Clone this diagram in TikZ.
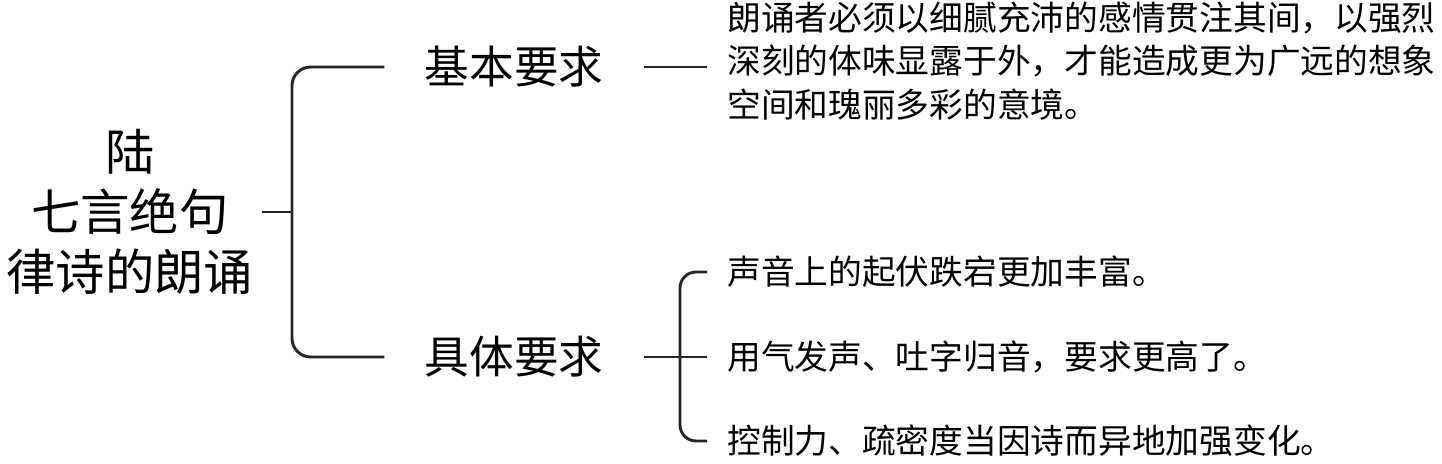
\documentclass[tikz,border=0pt]{standalone}
\usepackage{fontspec}
\setmainfont{Noto Sans CJK SC}
\usepackage{tikz}

\tikzset{
	link/.style={draw=black!85, line width=2.2pt},
	topic/.style={inner xsep=30pt, inner ysep=0pt, font=\fontsize{33.5}{40}\selectfont},
	item/.style={anchor=west, inner xsep=15pt, inner ysep=0pt, align=left, font=\fontsize{25.3}{32.5}\selectfont},
}

\begin{document}
\begin{tikzpicture}[x=0.75pt, y=-0.75pt]
	\useasboundingbox (0,0) rectangle (1442,464);

	\node[inner xsep=6pt, align=center, font=\fontsize{37}{45}\selectfont] (root) at (130,212) {陆\\七言绝句\\律诗的朗诵};
	\node[topic] (jb) at (514,67) {基本要求};
	\node[topic] (jt) at (514,357) {具体要求};

	\node[item] (desc) at (707,61) {朗诵者必须以细腻充沛的感情贯注其间，以强烈\\深刻的体味显露于外，才能造成更为广远的想象\\空间和瑰丽多彩的意境。};
	\node[item] (i1) at (707,272) {声音上的起伏跌宕更加丰富。};
	\node[item] (i2) at (707,357) {用气发声、吐字归音，要求更高了。};
	\node[item] (i3) at (707,441) {控制力、疏密度当因诗而异地加强变化。};

	\coordinate (spine) at (292,212);
	\coordinate (twig) at (680,357);

	\path[link] (root.east) edge (spine);
	\draw[link, rounded corners=14] (jb.west) -| (spine) |- (jt.west);
	\draw[link] (jb.east) -- (desc.west |- jb.east);
	\draw[link] (jt.east) -- (i2.west);
	\draw[link, rounded corners=12] (i1.west) -| (twig) |- (i3.west);
\end{tikzpicture}
\end{document}
